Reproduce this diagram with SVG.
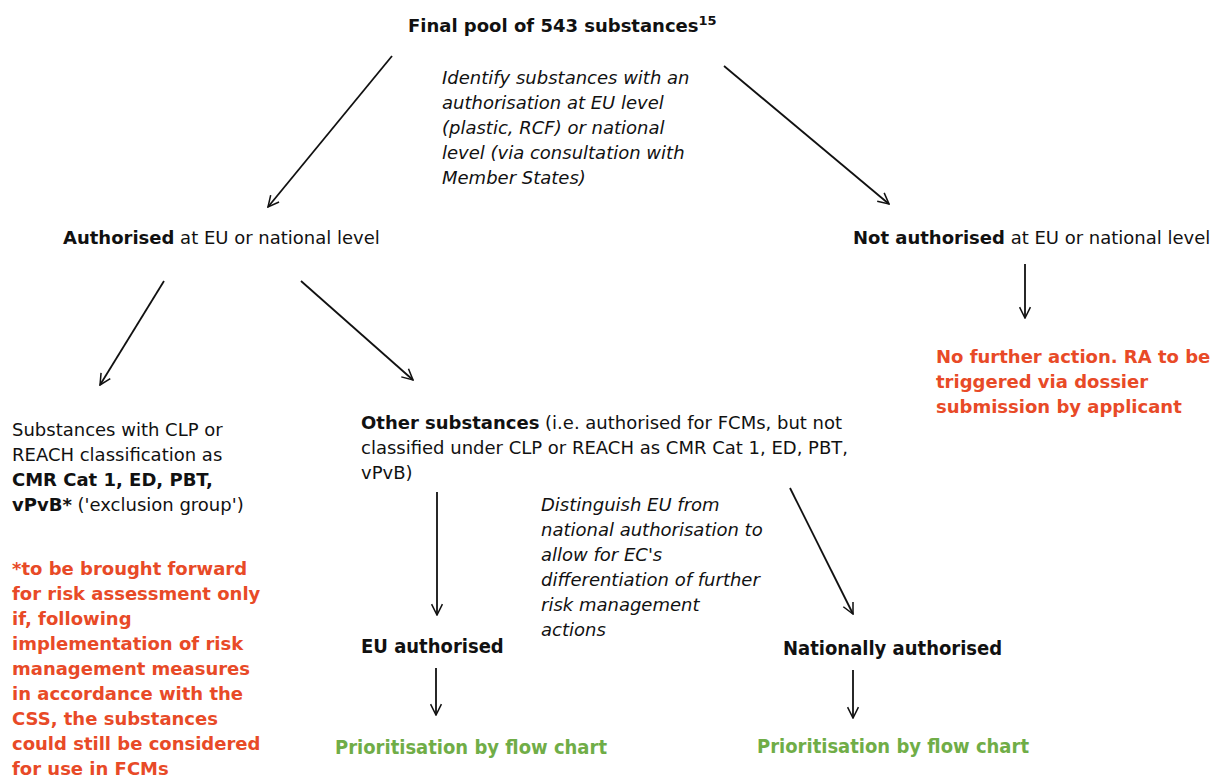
<svg xmlns="http://www.w3.org/2000/svg" width="1212" height="778" viewBox="0 0 1212 778">
<style>
text{font-family:"DejaVu Sans","Verdana",sans-serif;font-size:18px;fill:#111}
.b{font-weight:bold}
.i{font-style:italic}
.red{fill:#E84A27;font-weight:bold}
.grn{fill:#70AD47;font-weight:bold;font-family:"DejaVu Sans Condensed","DejaVu Sans",sans-serif;font-size:20px}
.cond{font-weight:bold;font-family:"DejaVu Sans Condensed","DejaVu Sans",sans-serif;font-size:20px}
.conn line{stroke:#111;stroke-width:1.8;marker-end:url(#ah)}
</style>
<defs>
<marker id="ah" viewBox="0 0 12 12" refX="11" refY="6" markerWidth="13" markerHeight="13" markerUnits="userSpaceOnUse" orient="auto">
<path d="M1,1 L11,6 L1,11" fill="none" stroke="#111" stroke-width="1.4"/>
</marker>
</defs>
<rect width="1212" height="778" fill="#fff"/>
<g id="pool"><text x="408" y="32" class="b">Final pool of 543 substances<tspan font-size="13" dy="-7">15</tspan></text></g>
<g id="identify-note">
<text x="442" y="84" class="i">Identify substances with an</text>
<text x="442" y="109" class="i">authorisation at EU level</text>
<text x="442" y="134" class="i">(plastic, RCF) or national</text>
<text x="442" y="159" class="i">level (via consultation with</text>
<text x="442" y="184" class="i">Member States)</text>
</g>
<g id="authorised"><text x="63" y="244"><tspan class="b">Authorised</tspan> at EU or national level</text></g>
<g id="not-authorised"><text x="853" y="244"><tspan class="b">Not authorised</tspan> at EU or national level</text></g>
<g id="no-further">
<text x="936" y="363" class="red">No further action. RA to be</text>
<text x="936" y="388" class="red">triggered via dossier</text>
<text x="936" y="413" class="red">submission by applicant</text>
</g>
<g id="exclusion">
<text x="12" y="436">Substances with CLP or</text>
<text x="12" y="461">REACH classification as</text>
<text x="12" y="486" class="b">CMR Cat 1, ED, PBT,</text>
<text x="12" y="511"><tspan class="b">vPvB*</tspan> ('exclusion group')</text>
</g>
<g id="exclusion-note">
<text x="12" y="575" class="red">*to be brought forward</text>
<text x="12" y="600" class="red">for risk assessment only</text>
<text x="12" y="625" class="red">if, following</text>
<text x="12" y="650" class="red">implementation of risk</text>
<text x="12" y="675" class="red">management measures</text>
<text x="12" y="700" class="red">in accordance with the</text>
<text x="12" y="725" class="red">CSS, the substances</text>
<text x="12" y="750" class="red">could still be considered</text>
<text x="12" y="775" class="red">for use in FCMs</text>
</g>
<g id="other">
<text x="361" y="429"><tspan class="b">Other substances</tspan> (i.e. authorised for FCMs, but not</text>
<text x="361" y="454">classified under CLP or REACH as CMR Cat 1, ED, PBT,</text>
<text x="361" y="479">vPvB)</text>
</g>
<g id="distinguish-note">
<text x="541" y="511" class="i">Distinguish EU from</text>
<text x="541" y="536" class="i">national authorisation to</text>
<text x="541" y="561" class="i">allow for EC's</text>
<text x="541" y="586" class="i">differentiation of further</text>
<text x="541" y="611" class="i">risk management</text>
<text x="541" y="636" class="i">actions</text>
</g>
<g id="eu-auth"><text x="361" y="653" class="cond">EU authorised</text></g>
<g id="nat-auth"><text x="783" y="655" class="cond">Nationally authorised</text></g>
<g id="prio-eu"><text x="335" y="754" class="grn">Prioritisation by flow chart</text></g>
<g id="prio-nat"><text x="757" y="753" class="grn">Prioritisation by flow chart</text></g>
<g id="connectors" class="conn">
<line x1="392" y1="56" x2="268" y2="207"/>
<line x1="724" y1="66" x2="889" y2="204"/>
<line x1="164" y1="281" x2="100" y2="385"/>
<line x1="301" y1="281" x2="413" y2="380"/>
<line x1="1025" y1="264" x2="1025" y2="318"/>
<line x1="437" y1="492" x2="437" y2="615"/>
<line x1="790" y1="488" x2="853" y2="614"/>
<line x1="436" y1="668" x2="436" y2="715"/>
<line x1="853" y1="670" x2="853" y2="718"/>
</g>
</svg>
